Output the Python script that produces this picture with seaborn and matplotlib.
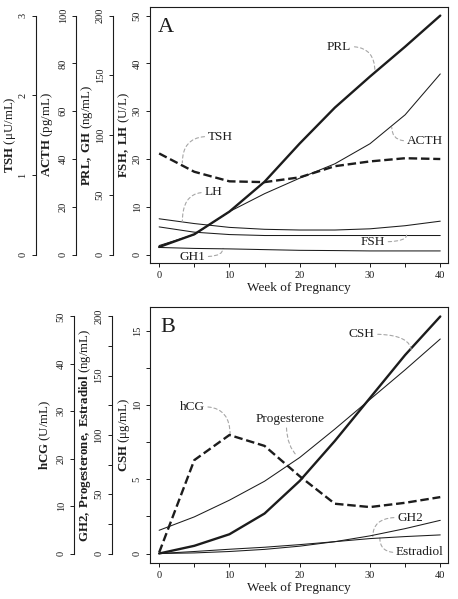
import matplotlib
matplotlib.use("Agg")
import matplotlib.pyplot as plt
import seaborn as sns


weeks = [0, 5, 10, 15, 20, 25, 30, 35, 40]
week_ticks = [0, 5, 10, 15, 20, 25, 30, 35, 40]
week_labels = ["0", "", "10", "", "20", "", "30", "", "40"]

# panel A, native units
fsh = [5.8, 4.7, 4.2, 4.0, 4.0, 4.0, 4.0, 4.0, 4.0]          # U/L
lh = [7.5, 6.5, 5.7, 5.3, 5.15, 5.15, 5.4, 6.05, 7.0]         # U/L
prl = [6.4, 17, 36, 61, 93, 123, 149, 174, 200]              # ng/mL
gh1 = [6.0, 5.2, 4.8, 4.2, 3.6, 3.4, 3.1, 3.1, 3.1]          # ng/mL
acth = [3.8, 8.4, 18, 25.5, 32, 38, 46.4, 58.5, 75.6]        # pg/mL
tsh = [1.27, 1.04, 0.92, 0.91, 0.97, 1.11, 1.17, 1.21, 1.2]  # uU/mL

# panel B, native units
csh = [0, 0.52, 1.3, 2.7, 4.9, 7.6, 10.5, 13.4, 16.0]        # ug/mL
hcg = [0.2, 19.7, 25, 22.7, 16.3, 10.5, 9.8, 10.7, 11.9]     # U/mL
progesterone = [19.6, 30.9, 45, 61, 81, 105, 130, 155, 181]  # ng/mL
gh2 = [0, 0.5, 1.7, 3.5, 6.2, 10, 14.9, 21, 28]              # ng/mL
estradiol = [0, 1.7, 3.6, 5.3, 7.5, 10.0, 12.6, 14.3, 15.7]  # ng/mL

fshlh_ticks = [0, 10, 20, 30, 40, 50]
tsh_ticks = [0, 1, 2, 3]
acth_ticks = [0, 20, 40, 60, 80, 100]
prl_ticks = [0, 50, 100, 150, 200]
csh_ticks = [0, 2.5, 5, 7.5, 10, 12.5, 15]
csh_labels = ["0", "", "5", "", "10", "", "15"]
hcg_ticks = [0, 10, 20, 30, 40, 50]
ng_ticks = [0, 25, 50, 75, 100, 125, 150, 175, 200]
ng_labels = ["0", "", "50", "", "100", "", "150", "", "200"]

INK = "#1c1c1c"
LEAD = "#a6a6a6"
THICK = 1.7
THIN = 0.75
DASH = (0, (3.6, 1.6))

sns.set_style("white")
plt.rcParams["font.family"] = ["Liberation Serif", "DejaVu Serif"]
plt.rcParams["mathtext.fontset"] = "custom"
plt.rcParams["mathtext.rm"] = "Liberation Serif"
plt.rcParams["mathtext.bf"] = "Liberation Serif:bold"
plt.rcParams["mathtext.it"] = "Liberation Serif:italic"


def style_ticks(ax):
    ax.tick_params(axis="both", direction="out", length=3, width=0.7,
                   pad=3, labelsize=7.5, colors=INK, left=True, bottom=True)
    ax.tick_params(axis="y", labelrotation=90)
    plt.setp(ax.get_yticklabels(), va="center")


def setup_main(ax, ylim, ticks, labels, ylabel):
    ax.set_xlim(-1.3, 41.1)
    ax.set_ylim(*ylim)
    ax.set_xticks(week_ticks)
    ax.set_xticklabels(week_labels)
    ax.set_yticks(ticks)
    ax.set_yticklabels(labels)
    for sp in ax.spines.values():
        sp.set_visible(True)
        sp.set_color(INK)
        sp.set_linewidth(0.8)
    ax.set_xlabel("Week of Pregnancy", fontsize=9.5, color=INK, labelpad=1.5)
    ax.set_ylabel(ylabel, fontsize=9.3, color=INK)
    ax.yaxis.set_label_coords(-0.060, 0.5)
    style_ticks(ax)


def add_side_axis(ax, main_top, side_top, pos, ticks, labels, ylabel, label_x):
    lo, hi = ax.get_ylim()
    k = side_top / main_top
    side = ax.twinx()
    side.set_ylim(lo * k, hi * k)
    for name in ("top", "right", "bottom"):
        side.spines[name].set_visible(False)
    side.spines["left"].set_visible(True)
    side.spines["left"].set_position(("axes", pos))
    side.spines["left"].set_bounds(ticks[0], ticks[-1])
    side.spines["left"].set_color(INK)
    side.spines["left"].set_linewidth(0.8)
    side.yaxis.tick_left()
    side.yaxis.set_label_position("left")
    side.set_yticks(ticks)
    side.set_yticklabels(labels)
    side.set_ylabel(ylabel, fontsize=9.3, color=INK)
    side.yaxis.set_label_coords(label_x, 0.5)
    style_ticks(side)
    side.tick_params(axis="x", bottom=False, labelbottom=False)
    return side


def draw(ax, y, lw, ls="-"):
    sns.lineplot(x=weeks, y=y, ax=ax, color=INK, lw=lw, linestyle=ls)


def leader(ax, text, xytext, xy, relpos, angles=(0, 90)):
    ax.annotate(
        text, xy=xy, xytext=xytext, textcoords="data",
        ha="center", va="center", fontsize=9.5, color=INK,
        arrowprops=dict(arrowstyle="-", color=LEAD, lw=0.8,
                        linestyle=(0, (3, 2.5)), shrinkA=0, shrinkB=0,
                        relpos=relpos,
                        connectionstyle="angle3,angleA=%d,angleB=%d" % angles),
    )


fig = plt.figure(figsize=(4.58, 5.99), dpi=100)
ax_a = fig.add_axes([150 / 458, 1 - 263 / 599, 298 / 458, 256 / 599])
ax_b = fig.add_axes([150 / 458, 1 - 563 / 599, 298 / 458, 256 / 599])

# ---- panel A
setup_main(ax_a, (-1.75, 51.8), fshlh_ticks, [str(t) for t in fshlh_ticks],
           r"$\mathbf{FSH,\ LH}$ (U/L)")
ax_tsh = add_side_axis(ax_a, 50, 3, -0.383, tsh_ticks, [str(t) for t in tsh_ticks],
                       r"$\mathbf{TSH}$ (μU/mL)", -0.443)
ax_acth = add_side_axis(ax_a, 50, 100, -0.248, acth_ticks, [str(t) for t in acth_ticks],
                        r"$\mathbf{ACTH}$ (pg/mL)", -0.319)
ax_prl = add_side_axis(ax_a, 50, 200, -0.124, prl_ticks, [str(t) for t in prl_ticks],
                       r"$\mathbf{PRL,\ GH}$ (ng/mL)", -0.185)

draw(ax_a, fsh, THIN)
draw(ax_a, lh, THIN)
draw(ax_prl, gh1, THIN)
draw(ax_acth, acth, THIN)
draw(ax_prl, prl, THICK)
draw(ax_tsh, tsh, THICK, DASH)

ax_a.text(0.027, 0.904, "A", transform=ax_a.transAxes, fontsize=16,
          color=INK, ha="left", va="baseline")
leader(ax_a, "PRL", (25.6, 43.5), (30.7, 38.3), (1, 0.5))
leader(ax_a, "TSH", (8.7, 24.7), (3.3, 19.2), (0, 0.5))
leader(ax_a, "LH", (7.7, 13.0), (3.3, 6.9), (0, 0.5))
leader(ax_a, "ACTH", (37.8, 23.8), (33.1, 26.6), (0, 0.5))
leader(ax_a, "FSH", (30.4, 2.7), (35.2, 4.1), (1, 0.5))
leader(ax_a, "GH1", (4.7, -0.4), (9.1, 1.3), (1, 0.5))
ax_a.set_xlim(-1.3, 41.1)

# ---- panel B
setup_main(ax_b, (-0.64, 16.64), csh_ticks, csh_labels, r"$\mathbf{CSH}$ (μg/mL)")
ax_hcg = add_side_axis(ax_b, 16, 50, -0.255, hcg_ticks, [str(t) for t in hcg_ticks],
                       r"$\mathbf{hCG}$ (U/mL)", -0.326)
ax_ng = add_side_axis(ax_b, 16, 200, -0.128, ng_ticks, ng_labels,
                      r"$\mathbf{GH2,\ Progesterone,\ Estradiol}$ (ng/mL)", -0.191)

draw(ax_ng, estradiol, THIN)
draw(ax_ng, gh2, THIN)
draw(ax_ng, progesterone, THIN)
draw(ax_b, csh, THICK)
draw(ax_hcg, hcg, THICK, DASH)

ax_b.text(0.034, 0.902, "B", transform=ax_b.transAxes, fontsize=16,
          color=INK, ha="left", va="baseline")
leader(ax_b, "CSH", (28.8, 14.8), (35.9, 13.6), (1, 0.5))
leader(ax_b, "hCG", (4.7, 9.9), (10.1, 8.0), (1, 0.5))
leader(ax_b, "Progesterone", (18.6, 9.1), (19.6, 6.6), (0.45, 0), (90, -45))
leader(ax_b, "GH2", (35.7, 2.43), (30.4, 1.15), (0, 0.5))
leader(ax_b, "Estradiol", (37.1, 0.07), (31.4, 1.05), (0, 0.5))
ax_b.set_xlim(-1.3, 41.1)

fig.savefig("out.png", dpi=100)
